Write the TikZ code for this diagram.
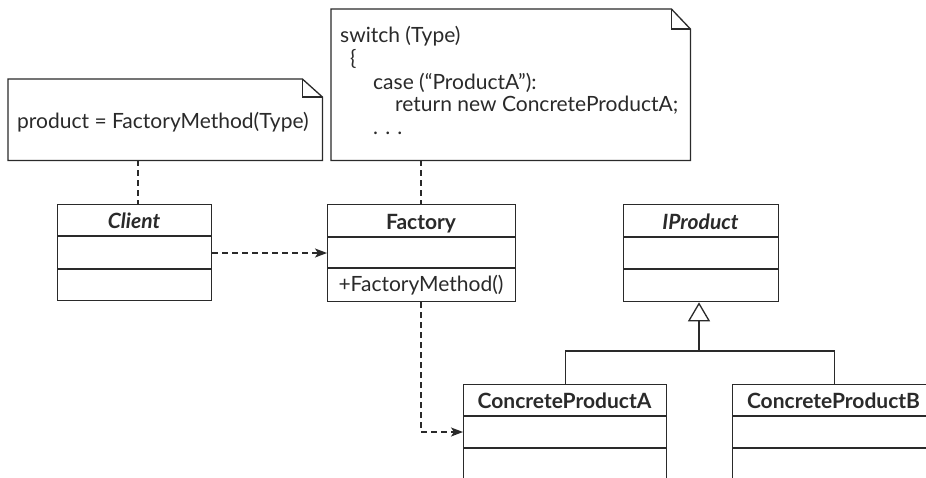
\documentclass[tikz,border=0pt]{standalone}
\usepackage{fontspec}
\setmainfont{Lato}
\usetikzlibrary{arrows.meta}
\definecolor{ink}{HTML}{2A2A2A}
\begin{document}
\begin{tikzpicture}[x=1pt,y=-1pt,
  every node/.style={text=ink, font=\fontsize{21}{23}\selectfont, inner sep=0pt},
  line/.style={draw=ink, line width=1.3pt},
  boxnode/.style={line, rectangle, anchor=north west},
  notenode/.style={rectangle, anchor=north west},
  dep/.style={draw=ink, line width=1.3pt, dash pattern=on 6pt off 4pt,
    -{Stealth[length=12pt,width=9pt,inset=3pt]}},
  tie/.style={draw=ink, line width=1.4pt, dash pattern=on 6pt off 4pt},
  inherit/.style={draw=ink, line width=1.3pt, -{Triangle[open,length=19pt,width=22pt,line width=1.3pt]}},
  ttl/.style={font=\fontsize{21}{23}\selectfont\bfseries, anchor=base},
  ttli/.style={font=\fontsize{21}{23}\selectfont\bfseries\itshape, anchor=base}
]
\useasboundingbox (0,0) rectangle (926,477);
\fill[white] (0,0) rectangle (926,477);
\clip (0,0) rectangle (926,477);

% notes
\node[notenode, minimum width=314pt, minimum height=81pt] (note1) at (8,79) {};
\draw[line, line join=miter] (note1.north west) -- ([xshift=-20pt]note1.north east)
  -- ([yshift=-18pt]note1.north east) -- (note1.south east) -- (note1.south west) -- cycle;
\draw[line] ([xshift=-20pt]note1.north east) |- ([yshift=-18pt]note1.north east);
\node[anchor=base west] (t1) at (17,128) {product = FactoryMethod(Type)};

\node[notenode, minimum width=359pt, minimum height=151pt] (note2) at (331,9) {};
\draw[line, line join=miter] (note2.north west) -- ([xshift=-19pt]note2.north east)
  -- ([yshift=-20pt]note2.north east) -- (note2.south east) -- (note2.south west) -- cycle;
\draw[line] ([xshift=-19pt]note2.north east) |- ([yshift=-20pt]note2.north east);
\node[anchor=base west] (s1) at (340,42) {switch (Type)};
\node[anchor=base west] (s2) at (350,65) {\{};
\node[anchor=base west] (s3) at (373,89) {case (“ProductA”):};
\node[anchor=base west] (s4) at (395,111) {return new ConcreteProductA;};
\node[anchor=base west] (s5) at (373,134) {. . .};

% classes
\node[boxnode, minimum width=154pt, minimum height=96pt] (client) at (57,204) {};
\draw[line] (57,236) -- (211,236) (57,269) -- (211,269);
\node[ttli] (clientT) at (134,228) {Client};

\node[boxnode, minimum width=188pt, minimum height=97pt] (factory) at (327,204) {};
\draw[line] (327,237) -- (515,237) (327,268) -- (515,268);
\node[ttl] (factoryT) at (421,229) {Factory};
\node[anchor=base] (factoryM) at (421,291) {+FactoryMethod()};

\node[boxnode, minimum width=155pt, minimum height=97pt] (iprod) at (623,204) {};
\draw[line] (623,237) -- (778,237) (623,269) -- (778,269);
\node[ttli] (iprodT) at (700.5,229) {IProduct};

\node[boxnode, minimum width=203pt, minimum height=130pt] (cpa) at (463,384) {};
\draw[line] (463,416) -- (666,416) (463,448) -- (666,448);
\node[ttl] (cpaT) at (564.5,408) {ConcreteProductA};

\node[boxnode, minimum width=203pt, minimum height=130pt] (cpb) at (732,384) {};
\draw[line] (732,416) -- (935,416) (732,448) -- (935,448);
\node[ttl] (cpbT) at (833.5,408) {ConcreteProductB};

% connectors
\draw[tie] (note1.south -| 138,0) -- (client.north -| 138,0);
\draw[tie] ([xshift=-0.5pt]note2.south -| factory.north) -- ([xshift=-0.5pt]factory.north);
\draw[dep] (client.east |- 0,253) -- (factory.west |- 0,253);
\coordinate (bend) at (421,432);
\draw[dep] (factory.south -| bend) -- (bend) -- (cpa.west |- bend);
\coordinate (join) at (699,351);
\draw[line] (cpa.north) |- (join) -| (cpb.north);
\draw[inherit] (join) -- (join |- iprod.south);
\end{tikzpicture}
\end{document}
